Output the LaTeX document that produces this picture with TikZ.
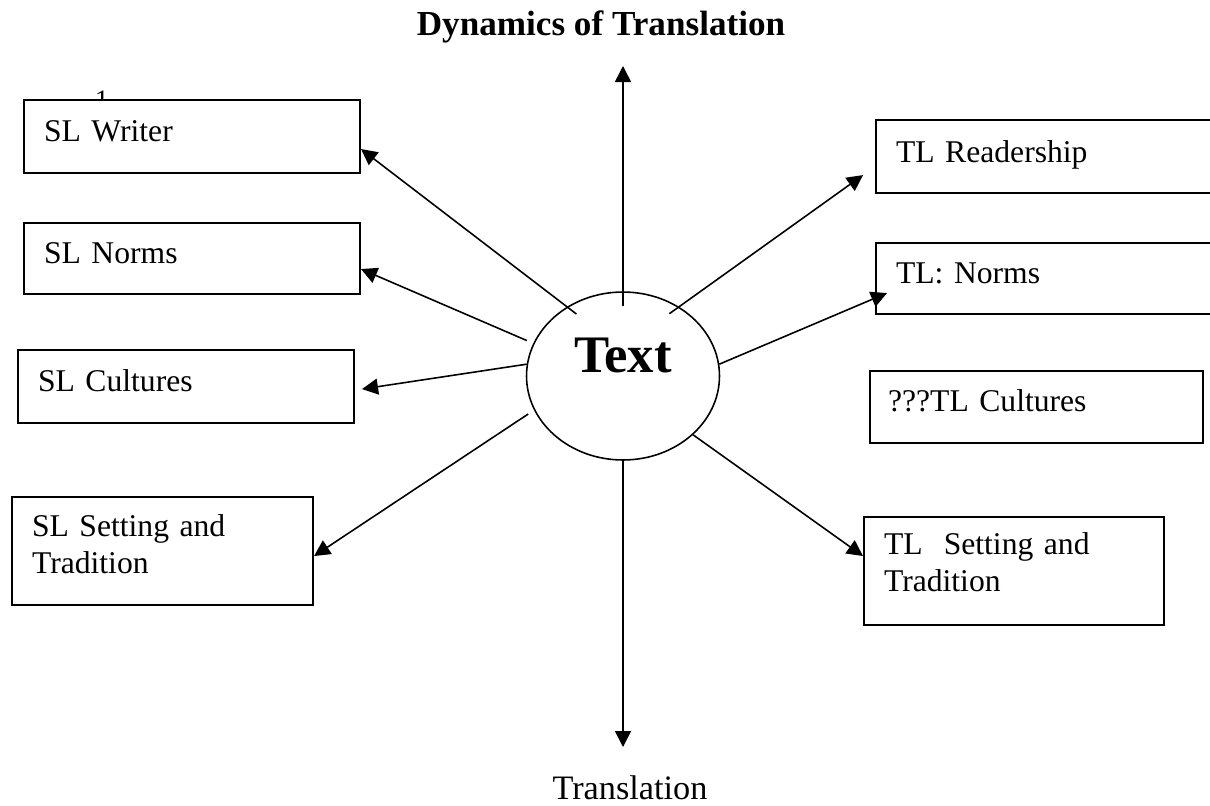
\documentclass[tikz,border=0pt]{standalone}
\usepackage{fontspec}
\setmainfont{Liberation Serif}
\usetikzlibrary{shapes.geometric, arrows.meta}

\begin{document}
\begin{tikzpicture}[
    x=0.02cm, y=-0.02cm,
    box/.style={rectangle, draw=black, line width=1.2pt, fill=white, anchor=north west, align=left, inner xsep=0.4cm, inner ysep=0pt, text width=5.92cm, text height=0.82cm, text depth=0.64cm, font=\fontsize{18}{21.5}\selectfont},
    twoline/.style={text width=5.2cm, text height=0.78cm, text depth=1.38cm},
    arrow/.style={line width=0.9pt, -{Triangle[length=0.32cm, width=0.32cm]}}
  ]
  \useasboundingbox (0,0) rectangle (1210,805);

  \node (title) [anchor=base, font=\fontsize{20}{24}\selectfont\bfseries] at (601,35) {Dynamics of Translation};
  \node (fn) [anchor=north, inner sep=0pt, font=\fontsize{16}{19}\selectfont] at (102,91) {1};

  % source language side
  \node (slw) [box] at (23,99) {SL Writer};
  \node (sln) [box, text height=0.80cm, text depth=0.62cm] at (23,222) {SL Norms};
  \node (slc) [box] at (17,349) {SL Cultures};
  \node (sls) [box, twoline, text width=5.22cm] at (11,496) {SL Setting and\\Tradition};

  % target language side
  \node (tlr) [box, text height=0.84cm, text depth=0.62cm] at (875,119) {TL Readership};
  \node (tln) [box, text height=0.80cm, text depth=0.62cm] at (875,242) {TL: Norms};
  \node (tlc) [box, text width=5.94cm, inner xsep=0.36cm, text height=0.80cm] at (869,370) {???TL Cultures};
  \node (tls) [box, twoline, text height=0.74cm, text depth=1.42cm] at (863,516) {TL\ \ Setting and\\Tradition};

  \node (txt) [ellipse, draw, line width=0.9pt, minimum width=3.86cm, minimum height=3.36cm, inner sep=0pt, text height=0.62cm, text depth=0.78cm, font=\fontsize{30}{36}\selectfont\bfseries] at (623,376) {Text};

  \node (trans) [anchor=base, font=\fontsize{19.5}{23}\selectfont] at (630,799) {Translation};

  \coordinate (top) at (623,66);
  \coordinate (bot) at (623,747);

  \draw [arrow, shorten <=-0.3cm] (txt.north) -- (top);
  \draw [arrow] (txt.south) -- (bot);
  \draw [arrow, shorten <=-0.24cm] (txt.129) -- ([yshift=-0.25cm]slw.east);
  \draw [arrow, shorten <=0.14cm] (txt.160) -- ([yshift=-0.21cm]sln.east);
  \draw [arrow] (txt.173) -- ([xshift=0.14cm, yshift=-0.05cm]slc.east);
  \draw [arrow, shorten <=0.14cm] (txt.201) -- ([yshift=-0.1cm]sls.east);
  \draw [arrow, shorten <=-0.24cm] (txt.51) -- ([xshift=-0.24cm, yshift=0.38cm]tlr.south west);
  \draw [arrow] (txt.7) -- ([xshift=0.24cm, yshift=-0.29cm]tln.west);
  \draw [arrow] (txt.-40) -- ([yshift=0.3cm]tls.west);
\end{tikzpicture}
\end{document}
